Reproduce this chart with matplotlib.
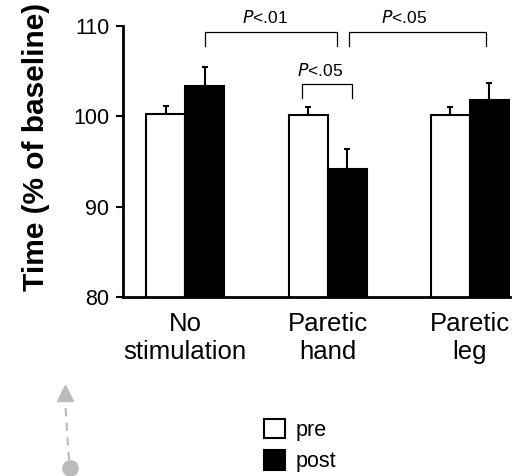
import numpy as np
import matplotlib
matplotlib.use("Agg")
import matplotlib.pyplot as plt
from matplotlib.lines import Line2D

plt.rcParams['font.family'] = ['Liberation Sans', 'DejaVu Sans']

categories = ["No\nstimulation", "Paretic\nhand", "Paretic\nleg"]
pre = [100.3, 100.2, 100.2]
pre_err = [0.9, 0.9, 0.8]
post = [103.4, 94.2, 101.8]
post_err = [2.1, 2.2, 1.9]

# (x1, x2, y, leg drop, label x, label)
brackets = [
    (0.137, 1.067, 109.4, 1.6, 0.56, "<.01"),
    (1.15, 2.11, 109.4, 1.6, 1.54, "<.05"),
    (0.82, 1.17, 103.6, 1.5, 0.95, "<.05"),
]

fig = plt.figure(figsize=(5.24, 4.76), dpi=100)
ax = fig.add_axes([0.235, 0.376, 0.738, 0.569])

x = np.arange(len(categories))
w = 0.274
ax.bar(x - w / 2, pre, w, color="white", edgecolor="black",
       linewidth=1.5, label="pre", zorder=2)
ax.bar(x + w / 2, post, w, color="black", edgecolor="black",
       linewidth=1.5, label="post", zorder=2)
ax.errorbar(x - w / 2, pre, yerr=[np.zeros(3), pre_err], fmt="none",
            ecolor="black", elinewidth=1.5, capsize=2.5, capthick=1.5, zorder=1)
ax.errorbar(x + w / 2, post, yerr=[np.zeros(3), post_err], fmt="none",
            ecolor="black", elinewidth=1.5, capsize=2.5, capthick=1.5, zorder=1)

for x1, x2, y, d, tx, lab in brackets:
    ax.plot([x1, x1, x2, x2], [y - d, y, y, y - d], color="black", lw=0.9,
            clip_on=False)
    ax.text(tx, y + 0.6, r"$\it{P}$" + lab, ha="center", va="bottom",
            fontsize=12.5)

ax.set_ylim(80, 110)
ax.set_xlim(-0.435, 2.28)
ax.set_yticks([80, 90, 100, 110])
ax.set_xticks(x)
ax.set_xticklabels(categories, fontsize=18.5)
ax.tick_params(axis="x", length=0, pad=11)
ax.tick_params(axis="y", direction="out", length=5, width=1.5, labelsize=15.5, pad=5)
for s in ["top", "right"]:
    ax.spines[s].set_visible(False)
for s in ["left", "bottom"]:
    ax.spines[s].set_linewidth(2)

fig.text(36 / 524, 1 - 147 / 476, "Time (% of baseline)", rotation=90,
         ha="center", va="center", fontsize=21.5, fontweight="bold")

handles, labels = ax.get_legend_handles_labels()
fig.legend(handles, labels, loc="upper left", bbox_to_anchor=(255 / 524, 1 - 410 / 476),
           frameon=False, fontsize=15.5, handlelength=1.0, handleheight=1.0,
           handletextpad=0.5, labelspacing=0.45, borderaxespad=0)

# grey dashed arrow at lower left
fig.add_artist(Line2D([69 / 524, 65 / 524], [1 - 460 / 476, 1 - 400 / 476],
                      transform=fig.transFigure, color="#bbbbbb", lw=1.5,
                      ls=(0, (4, 3))))
fig.add_artist(Line2D([64.5 / 524], [1 - 393 / 476], transform=fig.transFigure,
                      marker="^", ms=12, color="#bbbbbb", ls="none"))
fig.add_artist(Line2D([69.5 / 524], [1 - 468 / 476], transform=fig.transFigure,
                      marker="o", ms=11, color="#bbbbbb", ls="none"))

fig.savefig("out.png", dpi=100)
